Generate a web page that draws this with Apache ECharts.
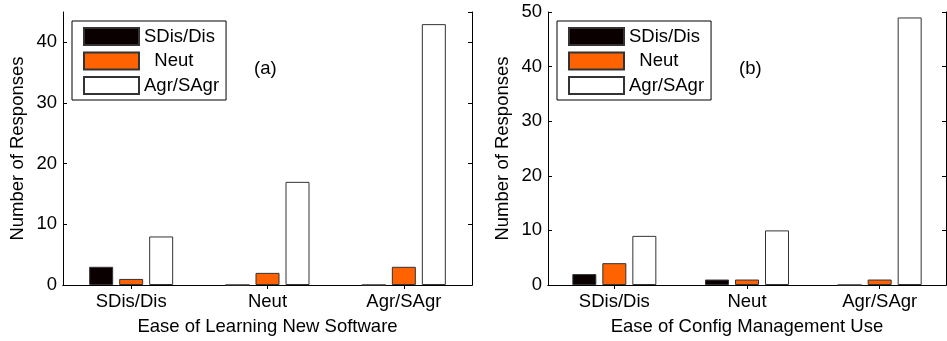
<!DOCTYPE html>
<html>
<head>
<meta charset="utf-8">
<script src="https://cdn.jsdelivr.net/npm/echarts@6/dist/echarts.min.js"></script>
<style>
  html, body { margin: 0; padding: 0; background: #fff; }
  #chart { width: 947px; height: 341px; }
</style>
</head>
<body>
<div id="chart"></div>
<script>
// categories and series (answer groups)
const categories = ['SDis/Dis', 'Neut', 'Agr/SAgr'];
const seriesNames = ['SDis/Dis', 'Neut', 'Agr/SAgr'];

// (a) Ease of Learning New Software
const learnDis = [3, 0, 0];
const learnNeut = [1, 2, 3];
const learnAgr = [8, 17, 43];

// (b) Ease of Config Management Use
const configDis = [2, 1, 0];
const configNeut = [4, 1, 1];
const configAgr = [9, 10, 49];

const learnMax = 45;
const configMax = 50;

const FONT = "'Liberation Sans', Arial, Helvetica, sans-serif";
const FS = 18.5;
const colors = ['#0a0000', '#ff6200', '#ffffff'];

const chart = echarts.init(document.getElementById('chart'));

const axisLine = { show: true, lineStyle: { color: '#000', width: 1 } };
const labelStyle = { color: '#000', fontSize: FS, fontFamily: FONT };

function xAxes(gridIndex, title) {
  return [
    {
      type: 'category', gridIndex, data: categories, position: 'bottom',
      axisLine, axisTick: { show: true, inside: true, length: 4, alignWithLabel: true, lineStyle: { color: '#000' } },
      axisLabel: { ...labelStyle, margin: 7 },
      name: title, nameLocation: 'middle', nameGap: 32,
      nameTextStyle: { ...labelStyle }
    },
    {
      type: 'category', gridIndex, data: categories, position: 'top',
      axisLine, axisTick: { show: true, inside: true, length: 4, alignWithLabel: true, lineStyle: { color: '#000' } },
      axisLabel: { show: false }
    }
  ];
}

function yAxes(gridIndex, max) {
  return [
    {
      type: 'value', gridIndex, min: 0, max, interval: 10, position: 'left',
      axisLine, axisTick: { show: true, inside: true, length: 4, lineStyle: { color: '#000' } },
      splitLine: { show: false },
      axisLabel: { ...labelStyle, margin: 6, showMaxLabel: max % 10 === 0 },
      name: 'Number of Responses', nameLocation: 'middle', nameGap: 36, nameRotate: 90,
      nameTextStyle: { ...labelStyle }
    },
    {
      type: 'value', gridIndex, min: 0, max, interval: 10, position: 'right',
      axisLine, axisTick: { show: true, inside: true, length: 4, lineStyle: { color: '#000' } },
      splitLine: { show: false },
      axisLabel: { show: false }
    }
  ];
}

function barSeries(xIndex, yIndex, values) {
  return values.map((vals, i) => ({
    name: seriesNames[i],
    type: 'bar',
    xAxisIndex: xIndex,
    yAxisIndex: yIndex,
    data: vals,
    barWidth: 24,
    barGap: '25%',
    itemStyle: { color: colors[i], borderColor: '#333', borderWidth: 1 },
    emphasis: { disabled: true }
  }));
}

function legendAt(left) {
  return {
    left, top: 21,
    orient: 'vertical',
    data: seriesNames,
    icon: 'rect',
    itemWidth: 55, itemHeight: 17, itemGap: 5.5,
    padding: [6, 7, 5, 11],
    borderColor: '#000', borderWidth: 1,
    backgroundColor: '#fff',
    selectedMode: false,
    formatter: name => (name === 'Neut' ? '  Neut' : name),
    textStyle: { ...labelStyle, lineHeight: 17 }
  };
}

chart.setOption({
  animation: false,
  grid: [
    { left: 63, right: 475, top: 12, bottom: 53 },
    { left: 548, right: 1, top: 12, bottom: 53 }
  ],
  xAxis: [...xAxes(0, 'Ease of Learning New Software'), ...xAxes(1, 'Ease of Config Management Use')],
  yAxis: [...yAxes(0, learnMax), ...yAxes(1, configMax)],
  legend: [legendAt(72), legendAt(557)],
  series: [
    ...barSeries(0, 0, [learnDis, learnNeut, learnAgr]),
    ...barSeries(2, 2, [configDis, configNeut, configAgr])
  ],
  graphic: [
    { type: 'text', left: 254, top: 59, style: { text: '(a)', font: FS + 'px ' + FONT, fill: '#000' } },
    { type: 'text', left: 739, top: 59, style: { text: '(b)', font: FS + 'px ' + FONT, fill: '#000' } }
  ]
});
</script>
</body>
</html>
